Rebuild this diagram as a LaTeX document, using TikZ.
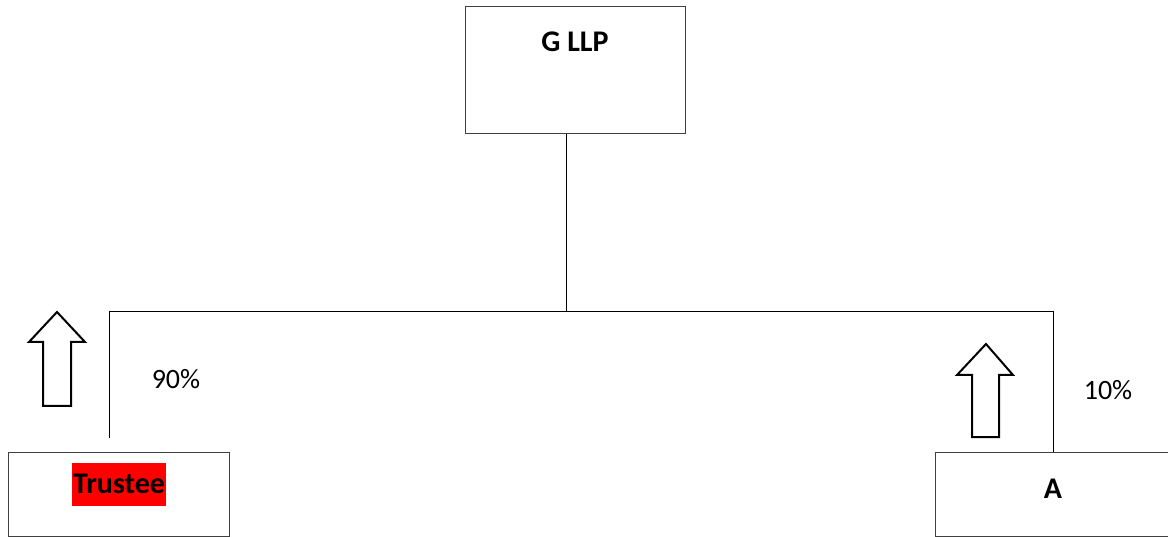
\documentclass[tikz,border=0pt]{standalone}
\usepackage{fontspec}
\setmainfont{Carlito}
\begin{document}
\begin{tikzpicture}[x=1pt,y=-1pt,
  box/.style={draw=black!75, line width=1pt, inner sep=0pt},
  lbl/.style={font=\fontsize{28}{32}\selectfont, inner sep=0pt},
  blbl/.style={font=\fontsize{30}{34}\selectfont\bfseries, inner sep=0pt},
  conn/.style={draw=black, line width=1pt},
  bigarrow/.style={draw=black, line width=2pt, fill=white, line join=miter}]
\useasboundingbox (0,0) rectangle (1168,537);
% boxes
\node[box, minimum width=220pt, minimum height=127pt] (g) at (575,70.5) {};
\node[blbl] (gl) at (575,42) {G LLP};
\node[box, minimum width=221pt, minimum height=84pt] (t) at (118.5,494) {};
\node[blbl, fill=red, inner xsep=1.5pt, minimum height=43pt] (tl) at (119,484) {Trustee};
\node[box, minimum width=236pt, minimum height=84pt] (a) at (1053,494) {};
\node[blbl] (al) at (1053,489) {A};
% connectors
\coordinate (j) at (566,312);
\coordinate (jl) at (109,312);
\coordinate (jr) at (1053,312);
\coordinate (lend) at (109,438);
\draw[conn] (g.south -| j) -- (j);
\draw[conn] (lend) -- (jl) -- (jr) -- (a.north -| jr);
% labels
\node[lbl] (p90) at (176,379) {90\%};
\node[lbl] (p10) at (1108,390) {10\%};
% block arrows
\draw[bigarrow] (57,312) -- (85,342) -- (71,342) -- (71,406) -- (43,406) -- (43,342) -- (29,342) -- cycle;
\draw[bigarrow] (986,344) -- (1013,375) -- (999,375) -- (999,437) -- (972,437) -- (972,375) -- (957,375) -- cycle;
\end{tikzpicture}
\end{document}
